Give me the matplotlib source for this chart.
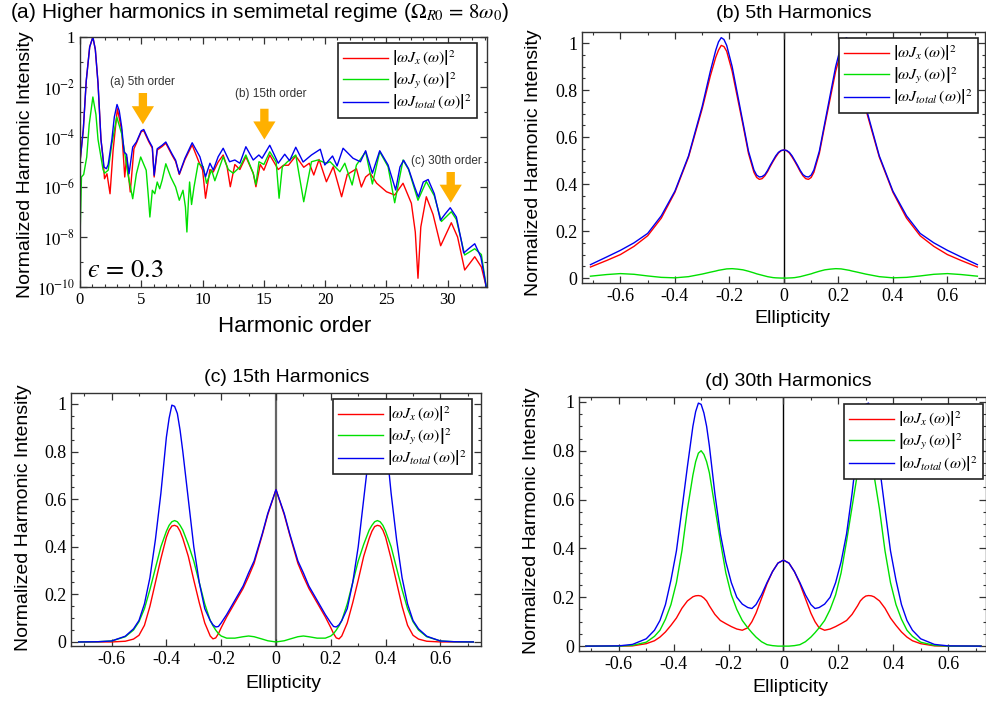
import matplotlib
matplotlib.use('Agg')
import matplotlib.pyplot as plt
import numpy as np

plt.rcParams['font.family'] = ['Liberation Sans', 'DejaVu Sans']
plt.rcParams['mathtext.fontset'] = 'stix'
plt.rcParams['axes.unicode_minus'] = False

# ---- (a) spectrum, values read as (harmonic order, log10 intensity)
spec_jx = [(0.0, -5.0), (0.27, -3.7), (0.51, -1.75), (0.79, -0.4), (1.05, 0.0), (1.25, -0.5),
           (1.47, -1.85), (1.71, -4.1), (1.85, -4.7), (2.0, -5.67), (2.2, -5.47), (2.45, -6.27),
           (2.7, -4.53), (3.05, -2.87), (3.4, -3.73), (3.65, -5.6), (3.8, -4.8), (4.1, -6.2),
           (4.4, -4.47), (4.6, -4.25), (5.0, -3.78), (5.2, -3.75), (5.6, -4.18), (5.9, -4.45),
           (6.05, -5.6), (6.3, -4.52), (6.7, -4.38), (7.0, -4.25), (7.5, -4.72), (7.8, -4.98),
           (8.1, -5.5), (8.56, -4.9), (9.15, -4.32), (9.7, -5.0), (10.0, -5.32), (10.24, -6.45),
           (10.6, -5.3), (10.87, -5.4), (11.27, -5.0), (11.68, -4.72), (12.0, -5.2), (12.26, -5.99),
           (12.63, -5.1), (13.04, -5.3), (13.53, -4.79), (14.13, -5.45), (14.35, -5.99), (14.7, -5.1),
           (15.0, -5.33), (15.48, -4.72), (16.17, -5.3), (16.6, -5.13), (17.0, -5.13), (17.6, -4.76),
           (18.25, -5.21), (18.7, -5.05), (19.07, -5.52), (19.5, -4.9), (20.1, -5.79), (20.66, -5.19),
           (21.34, -6.39), (21.8, -5.5), (22.55, -5.27), (22.95, -6.0), (23.3, -5.6), (23.67, -5.45),
           (24.2, -5.85), (25.0, -6.19), (25.67, -6.32), (26.35, -5.85), (27.03, -6.65), (27.35, -7.8),
           (27.57, -9.65), (27.8, -7.6), (28.25, -6.39), (28.8, -7.1), (29.42, -8.35), (30.29, -7.43),
           (30.8, -8.0), (31.38, -9.32), (32.2, -8.79), (32.74, -9.2), (33.14, -9.99), (33.2, -10.3)]

spec_jy = [(0.0, -8.1), (0.12, -5.6), (0.3, -5.5), (0.55, -4.8), (0.75, -3.5), (1.05, -2.4),
           (1.3, -3.1), (1.47, -4.1), (1.88, -5.3), (2.0, -5.45), (2.3, -5.33), (2.6, -4.27),
           (3.0, -3.2), (3.4, -3.87), (3.7, -4.8), (3.9, -5.47), (4.3, -6.47), (4.6, -5.47),
           (4.95, -4.8), (5.4, -5.33), (5.6, -6.53), (5.7, -7.2), (5.9, -6.13), (6.1, -6.27),
           (6.3, -5.8), (6.5, -6.07), (6.7, -5.73), (7.0, -5.07), (7.4, -5.6), (7.8, -6.0),
           (8.1, -6.53), (8.4, -6.13), (8.6, -6.8), (8.72, -7.8), (8.85, -6.5), (8.94, -5.8),
           (9.1, -6.7), (9.3, -6.0), (9.64, -5.05), (10.05, -5.19), (10.32, -5.85), (10.73, -5.32),
           (11.0, -5.75), (11.68, -4.79), (12.1, -5.3), (12.5, -5.45), (13.04, -5.2), (13.53, -4.72),
           (14.13, -5.45), (14.35, -5.9), (14.6, -4.99), (15.0, -5.1), (15.48, -4.59), (16.0, -5.0),
           (16.24, -6.45), (16.5, -5.2), (16.9, -5.0), (17.6, -4.72), (18.25, -6.59), (18.88, -4.99),
           (19.4, -4.92), (20.1, -5.05), (20.4, -4.99), (21.2, -5.39), (21.6, -5.05), (22.2, -5.92),
           (22.55, -5.12), (23.3, -4.59), (23.85, -5.88), (24.45, -4.59), (25.13, -5.19), (25.67, -6.63),
           (26.35, -4.92), (26.8, -5.3), (27.57, -6.53), (28.25, -5.78), (28.9, -6.35), (29.48, -7.38),
           (30.29, -6.99), (30.7, -7.3), (31.38, -8.72), (32.2, -8.47), (32.74, -8.7), (33.14, -9.99),
           (33.2, -10.2)]

spec_tot = [(0.0, -5.0), (0.27, -3.7), (0.51, -1.75), (0.79, -0.4), (1.05, 0.0), (1.25, -0.5),
            (1.47, -1.85), (1.71, -4.1), (1.96, -5.2), (2.15, -5.27), (2.3, -5.1), (2.6, -4.1),
            (2.8, -3.2), (3.02, -2.7), (3.2, -2.95), (3.4, -3.6), (3.6, -4.6), (3.8, -4.7),
            (4.0, -5.47), (4.3, -4.4), (4.6, -4.2), (5.0, -3.75), (5.2, -3.7), (5.6, -4.13),
            (5.9, -4.4), (6.05, -5.53), (6.3, -4.47), (6.7, -4.33), (7.0, -4.2), (7.5, -4.67),
            (7.8, -4.93), (8.1, -5.47), (8.56, -4.85), (9.15, -4.23), (9.78, -4.79), (10.24, -5.59),
            (10.6, -5.05), (10.87, -5.32), (11.27, -4.79), (11.68, -4.45), (12.2, -4.99), (12.63, -4.92),
            (13.04, -5.05), (13.53, -4.39), (14.13, -4.92), (14.59, -4.72), (14.85, -4.85), (15.48, -4.33),
            (16.17, -5.05), (16.7, -4.69), (17.1, -4.95), (17.6, -4.41), (18.2, -5.0), (18.88, -4.72),
            (19.6, -4.49), (19.97, -5.12), (20.6, -4.76), (20.97, -5.16), (21.46, -4.45), (22.27, -4.85),
            (22.87, -4.99), (23.3, -4.55), (23.85, -5.45), (24.45, -4.55), (25.13, -5.12), (25.75, -6.12),
            (26.1, -5.2), (26.4, -4.93), (26.8, -5.27), (27.3, -6.0), (27.6, -6.4), (28.0, -5.8),
            (28.4, -5.7), (28.9, -6.27), (29.4, -7.33), (29.8, -7.07), (30.2, -6.83), (30.7, -7.2),
            (31.1, -8.13), (31.3, -8.64), (31.7, -8.47), (32.2, -8.27), (32.7, -8.8), (33.0, -9.6),
            (33.2, -10.2)]

# arrows in (a): (order, log10 top, log10 tip, label, label x, label log10 y)
arrows = [(5.13, -2.24, -3.49, '(a) 5th order', 5.1, -1.8),
          (15.04, -2.87, -4.1, '(b) 15th order', 15.6, -2.3),
          (30.24, -5.4, -6.63, '(c) 30th order', 29.9, -4.97)]

# ---- (b) 5th harmonic, half curve (ellipticity <= 0), mirror symmetric
ell5 = [-0.71, -0.65, -0.60, -0.55, -0.50, -0.45, -0.40, -0.35, -0.30, -0.27, -0.25, -0.24, -0.23,
        -0.22, -0.21, -0.19, -0.17, -0.15, -0.13, -0.11, -0.10, -0.09, -0.08, -0.07, -0.06,
        -0.05, -0.04, -0.03, -0.02, -0.01, 0.0]
jx5 = [0.047, 0.075, 0.10, 0.135, 0.18, 0.255, 0.365, 0.515, 0.72, 0.86, 0.94, 0.97, 0.99,
       0.985, 0.965, 0.88, 0.765, 0.65, 0.53, 0.45, 0.428, 0.42, 0.423, 0.435, 0.453,
       0.475, 0.496, 0.515, 0.532, 0.542, 0.545]
jy5 = [0.008, 0.015, 0.019, 0.016, 0.009, 0.003, 0.001, 0.006, 0.017, 0.025, 0.030, 0.033, 0.035,
       0.037, 0.039, 0.040, 0.038, 0.035, 0.029, 0.022, 0.018, 0.015, 0.012, 0.009, 0.006,
       0.004, 0.002, 0.001, 0.0005, 0.0, 0.0]
tot5 = [0.057, 0.09, 0.118, 0.15, 0.19, 0.265, 0.37, 0.52, 0.73, 0.88, 0.97, 1.005, 1.023,
        1.015, 0.99, 0.90, 0.78, 0.66, 0.54, 0.46, 0.438, 0.43, 0.432, 0.44, 0.458,
        0.48, 0.50, 0.52, 0.535, 0.543, 0.545]

# ---- (c) 15th harmonic
ell15 = [-0.72, -0.65, -0.60, -0.55, -0.52, -0.50, -0.48, -0.46, -0.44, -0.42, -0.40, -0.39, -0.38,
         -0.37, -0.36, -0.35, -0.34, -0.32, -0.30, -0.28, -0.26, -0.24, -0.23, -0.22, -0.21, -0.20,
         -0.18, -0.15, -0.12, -0.10, -0.08, -0.05, -0.03, 0.0]
jx15 = [0.0, 0.0, 0.0, 0.003, 0.012, 0.028, 0.07, 0.15, 0.25, 0.35, 0.44, 0.47, 0.487,
        0.49, 0.485, 0.465, 0.435, 0.36, 0.26, 0.165, 0.08, 0.025, 0.013, 0.017, 0.035, 0.06,
        0.105, 0.165, 0.225, 0.275, 0.33, 0.45, 0.535, 0.64]
jy15 = [0.0, 0.001, 0.004, 0.022, 0.05, 0.085, 0.14, 0.22, 0.31, 0.40, 0.465, 0.49, 0.505,
        0.51, 0.505, 0.49, 0.47, 0.41, 0.34, 0.25, 0.16, 0.09, 0.068, 0.05, 0.035, 0.025,
        0.016, 0.016, 0.022, 0.025, 0.022, 0.012, 0.005, 0.0]
tot15 = [0.0, 0.001, 0.004, 0.024, 0.055, 0.09, 0.16, 0.27, 0.43, 0.625, 0.86, 0.94, 0.995,
         0.99, 0.96, 0.89, 0.80, 0.60, 0.40, 0.25, 0.14, 0.09, 0.072, 0.063, 0.065, 0.08,
         0.115, 0.175, 0.235, 0.29, 0.34, 0.455, 0.54, 0.64]

# ---- (d) 30th harmonic
ell30 = [-0.72, -0.60, -0.55, -0.50, -0.47, -0.45, -0.43, -0.41, -0.39, -0.37, -0.35, -0.33, -0.32,
         -0.31, -0.30, -0.29, -0.28, -0.27, -0.25, -0.23, -0.21, -0.19, -0.17, -0.15, -0.13, -0.115,
         -0.10, -0.08, -0.06, -0.04, -0.02, 0.0]
jx30 = [0.0, 0.0, 0.001, 0.01, 0.022, 0.037, 0.058, 0.085, 0.115, 0.155, 0.185, 0.202, 0.206,
        0.207, 0.205, 0.197, 0.185, 0.165, 0.13, 0.105, 0.092, 0.08, 0.07, 0.065, 0.075, 0.10,
        0.135, 0.195, 0.255, 0.305, 0.34, 0.352]
jy30 = [0.0, 0.0, 0.003, 0.016, 0.04, 0.065, 0.11, 0.17, 0.26, 0.39, 0.56, 0.70, 0.755,
        0.79, 0.80, 0.785, 0.755, 0.71, 0.57, 0.43, 0.30, 0.21, 0.15, 0.105, 0.075, 0.055,
        0.037, 0.018, 0.006, 0.002, 0.0, 0.0]
tot30 = [0.0, 0.001, 0.007, 0.03, 0.065, 0.105, 0.17, 0.27, 0.39, 0.56, 0.735, 0.90, 0.96,
         0.995, 0.99, 0.955, 0.90, 0.82, 0.625, 0.46, 0.345, 0.26, 0.20, 0.172, 0.158, 0.154,
         0.17, 0.21, 0.26, 0.305, 0.34, 0.352]

labels = [r'$\left|\omega J_x\,\left(\omega\right)\right|^2$',
          r'$\left|\omega J_y\,\left(\omega\right)\right|^2$',
          r'$\left|\omega J_{total}\,\left(\omega\right)\right|^2$']
colors = ['#ff0000', '#00e000', '#0000f0']

W, H = 987, 701


def box(l, r, t, b):
    return [l / W, 1 - b / H, (r - l) / W, (b - t) / H]


def mirror(x, y):
    x = np.array(x)
    y = np.array(y)
    return np.concatenate([x, -x[::-1][1:]]), np.concatenate([y, y[::-1][1:]])


def style(ax):
    for s in ax.spines.values():
        s.set_color('#333333')
        s.set_linewidth(1.0)
    ax.tick_params(which='both', direction='in', top=True, right=True, colors='#333333',
                   labelcolor='black', labelfontfamily='Liberation Serif')
    ax.tick_params(which='major', length=5, width=0.9)
    ax.tick_params(which='minor', length=2.5, width=0.8)


def legend(ax, anchor):
    leg = ax.legend(loc='upper right', bbox_to_anchor=anchor, borderaxespad=0, fancybox=False,
                    edgecolor='#222222', framealpha=1, fontsize=11.5, handlelength=2.8,
                    handletextpad=0.25, labelspacing=0.12, borderpad=0.35)
    leg.get_frame().set_linewidth(1.2)


fig = plt.figure(figsize=(W / 100, H / 100), dpi=100)

# ---------- (a)
ax = fig.add_axes(box(80, 487, 37, 287))
for data, c, lab in zip([spec_jx, spec_jy, spec_tot], colors, labels):
    d = np.array(data)
    ax.plot(d[:, 0], 10.0 ** d[:, 1], color=c, lw=1.0, label=lab)
ax.set_yscale('log')
ax.set_xlim(0, 33.2)
ax.set_ylim(1e-10, 1)
major = [10.0 ** k for k in range(0, -11, -2)]
ax.set_yticks(major, ['1'] + [r'$10^{%d}$' % k for k in range(-2, -11, -2)])
ax.yaxis.set_minor_locator(matplotlib.ticker.FixedLocator([10.0 ** k for k in range(-1, -10, -2)]))
ax.yaxis.set_minor_formatter(matplotlib.ticker.NullFormatter())
ax.xaxis.set_major_locator(matplotlib.ticker.MultipleLocator(5))
ax.xaxis.set_minor_locator(matplotlib.ticker.MultipleLocator(1))
style(ax)
ax.tick_params(labelsize=12)
for xo, top, tip, txt, tx, ty in arrows:
    ax.annotate('', xy=(xo, 10.0 ** tip), xytext=(xo, 10.0 ** top),
                arrowprops=dict(facecolor='#ffb000', edgecolor='none', width=6, headwidth=16,
                                headlength=13))
    ax.text(tx, 10.0 ** ty, txt, fontsize=8.5, color='#333333', ha='center', va='center')
ax.text(0.57, 10.0 ** -9.6, '$\u03f5\\, =\\, 0.3$', fontsize=19, va='baseline')
legend(ax, (0.975, 0.976))
fig.text(10 / W, 1 - 13 / H, r'(a) Higher harmonics in semimetal regime ($\Omega_{R0}\, =\, 8\omega_0$)',
         fontsize=15, ha='left', va='center')
fig.text(26 / W, 1 - 165 / H, 'Normalized Harmonic Intensity', fontsize=14, rotation=90,
         ha='center', va='center')
fig.text(295 / W, 1 - 326 / H, 'Harmonic order', fontsize=16, ha='center', va='center')

# ---------- (b), (c), (d)
panels = [
    (box(582, 985, 32, 283), ell5, jx5, jy5, tot5, (-0.741, 0.738), (-0.021, 1.047),
     '(b) 5th Harmonics', (794, 14), (534, 163), (792, 319), (0.983, 0.976), 'black'),
    (box(71, 481, 393, 646), ell15, jx15, jy15, tot15, (-0.748, 0.748), (-0.017, 1.046),
     '(c) 15th Harmonics', (287, 377), (24, 518), (283, 683), (0.978, 0.976), '#666666'),
    (box(579, 986, 397, 651), ell30, jx30, jy30, tot30, (-0.745, 0.738), (-0.02, 1.02),
     '(d) 30th Harmonics', (788, 381), (531, 521), (790, 688), (0.993, 0.972), 'black'),
]

xt = [-0.6, -0.4, -0.2, 0, 0.2, 0.4, 0.6]
yt = [0, 0.2, 0.4, 0.6, 0.8, 1.0]
for rect, ell, jx, jy, tot, xl, yl, title, tpos, ypos, xpos, anc, vcol in panels:
    ax = fig.add_axes(rect)
    ax.axvline(0, color=vcol, lw=1.0 if vcol == 'black' else 1.6, zorder=1)
    for vals, c, lab in zip([jx, jy, tot], colors, labels):
        xx, yy = mirror(ell, vals)
        ax.plot(xx, yy, color=c, lw=1.0, label=lab, zorder=2)
    ax.set_xlim(*xl)
    ax.set_ylim(*yl)
    ax.set_xticks(xt, ['%g' % v for v in xt])
    ax.set_yticks(yt, ['%g' % v for v in yt])
    ax.xaxis.set_minor_locator(matplotlib.ticker.MultipleLocator(0.1))
    ax.yaxis.set_minor_locator(matplotlib.ticker.MultipleLocator(0.05))
    style(ax)
    ax.tick_params(labelsize=13)
    legend(ax, anc)
    fig.text(tpos[0] / W, 1 - tpos[1] / H, title, fontsize=14, ha='center', va='center')
    fig.text(ypos[0] / W, 1 - ypos[1] / H, 'Normalized Harmonic Intensity', fontsize=14,
             rotation=90, ha='center', va='center')
    fig.text(xpos[0] / W, 1 - xpos[1] / H, 'Ellipticity', fontsize=14, ha='center', va='center')

fig.savefig('out.png', dpi=100)
